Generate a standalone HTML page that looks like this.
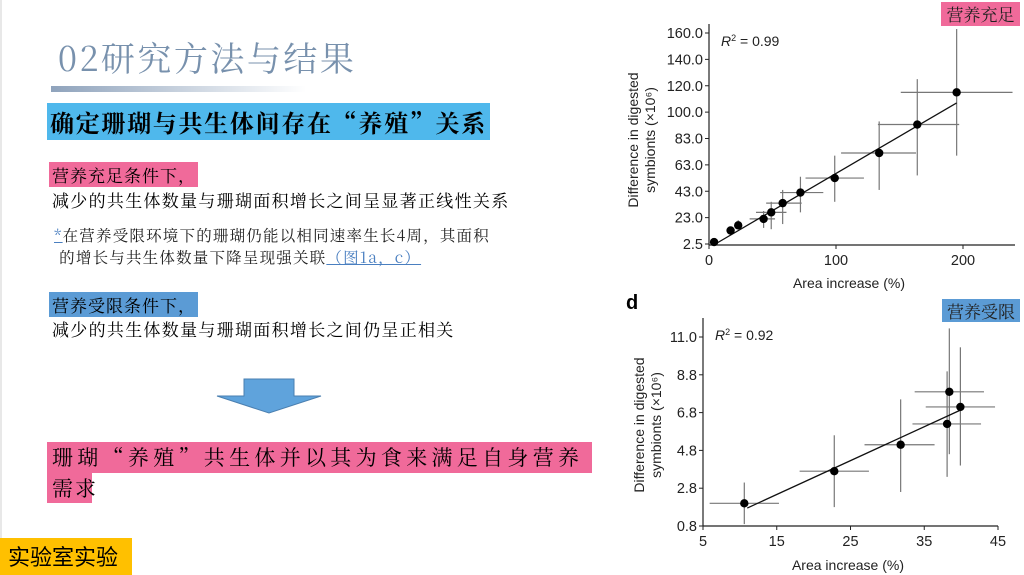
<!DOCTYPE html>
<html><head><meta charset="utf-8">
<style>
body{margin:0;width:1024px;height:575px;overflow:hidden;background:#fff;position:relative;font-family:"Noto Serif CJK SC","Liberation Serif",serif;}
.abs{position:absolute;white-space:nowrap;}
</style></head><body>
<div class="abs" style="left:0;top:0;width:2px;height:575px;background:#e8e8e8"></div>
<div class="abs" style="left:58px;top:35px;font-size:34px;color:#7891ad;letter-spacing:2.5px;line-height:44px">02研究方法与结果</div>
<div class="abs" style="left:51px;top:86px;width:255px;height:6px;background:linear-gradient(90deg,#8fa3bc,rgba(200,210,222,0))"></div>
<div class="abs" style="left:47px;top:103px;width:443px;height:37px;background:#4fb8ec;font-size:24px;font-weight:bold;letter-spacing:1.7px;line-height:37px;padding-left:3px;box-sizing:border-box;color:#000">确定珊瑚与共生体间存在“养殖”关系</div>
<div class="abs" style="left:49px;top:162px;width:149px;height:25px;background:#f06a9a;font-size:17px;letter-spacing:1px;line-height:25px;padding-left:3px;box-sizing:border-box">营养充足条件下，</div>
<div class="abs" style="left:52px;top:187px;font-size:17px;letter-spacing:1.3px;line-height:26px">减少的共生体数量与珊瑚面积增长之间呈显著正线性关系</div>
<div class="abs" style="left:54px;top:224px;font-size:15.5px;letter-spacing:1.2px;line-height:22px;color:#222"><span style="color:#4a7fc0;text-decoration:underline">*</span>在营养受限环境下的珊瑚仍能以相同速率生长4周，其面积<br>&nbsp;的增长与共生体数量下降呈现强关联<span style="color:#4a7fc0;text-decoration:underline">（图1a，c）</span></div>
<div class="abs" style="left:49px;top:292px;width:149px;height:25px;background:#5b9bd5;font-size:17px;letter-spacing:1px;line-height:25px;padding-left:3px;box-sizing:border-box">营养受限条件下，</div>
<div class="abs" style="left:52px;top:316px;font-size:17px;letter-spacing:1.3px;line-height:26px">减少的共生体数量与珊瑚面积增长之间仍呈正相关</div>
<svg class="abs" style="left:0;top:0" width="400" height="420"><polygon points="244,379 294,379 294,396 321,396 269,413 217,396 244,396" fill="#5fa3dc" stroke="#4a7fb0" stroke-width="1"/></svg>
<div class="abs" style="left:47px;top:442px;width:545px;height:31px;background:#f06a9a;font-size:21px;letter-spacing:4.3px;line-height:31px;padding-left:5px;box-sizing:border-box">珊瑚“养殖”共生体并以其为食来满足自身营养</div>
<div class="abs" style="left:47px;top:473px;width:45px;height:30px;background:#f06a9a;font-size:21px;letter-spacing:2px;line-height:30px;padding-left:5px;box-sizing:border-box">需求</div>
<div class="abs" style="left:0;top:538px;width:132px;height:37px;background:#ffc000;font-family:'Noto Sans CJK SC',sans-serif;font-size:22px;line-height:37px;padding-left:8px;box-sizing:border-box">实验室实验</div>
<div class="abs" style="left:941px;top:2px;width:79px;height:24px;background:#f06a9a;font-size:17px;line-height:24px;text-align:center;color:#222">营养充足</div>
<div class="abs" style="left:942px;top:299px;width:78px;height:23px;background:#5b9bd5;font-size:17px;line-height:23px;text-align:center;color:#222">营养受限</div>
<div class="abs" style="left:626px;top:292px;font-family:'Liberation Sans',sans-serif;font-weight:bold;font-size:20px">d</div>
<svg id="chart" class="abs" style="left:0;top:0" width="1024" height="575" font-family="Liberation Sans, sans-serif"></svg>
<script>
// Top chart data
const topYTicks=[2.5,23,43,63,83,100,120,140,160];
const topXTicks=[0,100,200];
const topX=[4,17,23,43,49,58,72,99,134,164,195];
const topY=[4,13,17,22,27,34,42,53,72,92,115];
const topXLo=[4,15,21,32,37,45,56,76,104,133,151];
const topXHi=[4,19,25,52,61,73,90,122,163,197,239];
const topYLo=[4,11,14,15,14,18,27,35,44,55,70];
const topYHi=[4,15,21,28,35,44,54,70,94,125,163];
const topLine=[[5,2.5],[195,107]];
// Bottom chart data
const botYTicks=[0.8,2.8,4.8,6.8,8.8,11.0];
const botXTicks=[5,15,25,35,45];
const botX=[10.6,22.8,31.8,38.1,38.4,39.9];
const botY=[2.0,3.7,5.1,6.2,7.9,7.1];
const botXLo=[5.9,18.1,26.9,33.4,33.7,35.2];
const botXHi=[15.3,27.5,36.4,42.7,43.1,44.6];
const botYLo=[0.9,1.8,2.6,3.4,4.6,4.0];
const botYHi=[3.1,5.6,7.5,9.0,11.5,10.4];
const botLine=[[11,1.75],[39.9,6.93]];

const svg=document.getElementById('chart');
const NS='http://www.w3.org/2000/svg';
function mk(t,a,name){const e=document.createElementNS(NS,t);for(const k in a)e.setAttribute(k,a[k]);


svg.appendChild(e);return e;}
function pw(ticks,p0,p1){const n=ticks.length-1;return v=>{let i=0;while(i<n-1&&v>ticks[i+1])i++;const f=(v-ticks[i])/(ticks[i+1]-ticks[i]);return p0+(i+f)*(p1-p0)/n;};}
function lin(d0,d1,p0,p1){return v=>p0+(v-d0)/(d1-d0)*(p1-p0);}
function draw(o){
 const {sx,sy,xt,yt,left,bottom,top,right,X,Y,XL,XH,YL,YH,line,r2,pre}=o;
 mk('line',{x1:left,y1:top,x2:left,y2:bottom,stroke:'#222','stroke-width':1.2},pre+'y-axis');
 mk('line',{x1:left,y1:bottom,x2:right,y2:bottom,stroke:'#222','stroke-width':1.2},pre+'x-axis');
 yt.forEach(v=>{const y=sy(v);mk('line',{x1:left-4,y1:y,x2:left,y2:y,stroke:'#222'},pre+'y-tick');
  const t=mk('text',{x:left-6,y:y+5,'text-anchor':'end','font-size':14.5,fill:'#222'},pre+'y-tick-label');t.textContent=v.toFixed(1);});
 xt.forEach(v=>{const x=sx(v);mk('line',{x1:x,y1:bottom,x2:x,y2:bottom+4,stroke:'#222'},pre+'x-tick');
  const t=mk('text',{x:x,y:bottom+20,'text-anchor':'middle','font-size':14.5,fill:'#222'},pre+'x-tick-label');t.textContent=v;});
 X.forEach((x,i)=>{
  mk('line',{x1:sx(XL[i]),y1:sy(Y[i]),x2:sx(XH[i]),y2:sy(Y[i]),stroke:'#777','stroke-width':1.2},pre+'x-error-bar');
  mk('line',{x1:sx(x),y1:sy(YL[i]),x2:sx(x),y2:sy(YH[i]),stroke:'#777','stroke-width':1.2},pre+'y-error-bar');
 });
 mk('line',{x1:sx(line[0][0]),y1:sy(line[0][1]),x2:sx(line[1][0]),y2:sy(line[1][1]),stroke:'#111','stroke-width':1.3},pre+'regression-line');
 X.forEach((x,i)=>mk('circle',{cx:sx(x),cy:sy(Y[i]),r:4.2,fill:'#000'},pre+'data-point'));
 const r=mk('text',{x:left+12,y:top+22,'font-size':14,fill:'#222'},pre+'r-squared');r.innerHTML='<tspan font-style="italic">R</tspan><tspan dy="-5" font-size="9">2</tspan><tspan dy="5"> = '+r2+'</tspan>';
}
draw({sx:lin(0,200,709,963),sy:pw(topYTicks,244,33),xt:topXTicks,yt:topYTicks,left:709,bottom:245,top:24,right:1015,
 X:topX,Y:topY,XL:topXLo,XH:topXHi,YL:topYLo,YH:topYHi,line:topLine,r2:'0.99',pre:'top-'});
draw({sx:lin(5,45,703,998),sy:pw(botYTicks,526,337),xt:botXTicks,yt:botYTicks,left:703,bottom:526,top:318,right:998,
 X:botX,Y:botY,XL:botXLo,XH:botXHi,YL:botYLo,YH:botYHi,line:botLine,r2:'0.92',pre:'bottom-'});
function txt(a,s,name){const t=mk('text',a,name);t.textContent=s;return t;}
txt({x:849,y:288,'text-anchor':'middle','font-size':14,fill:'#222'},'Area increase (%)','top-x-axis-title');
txt({x:848,y:570,'text-anchor':'middle','font-size':14,fill:'#222'},'Area increase (%)','bottom-x-axis-title');
txt({x:0,y:0,'text-anchor':'middle','font-size':14,fill:'#222',transform:'translate(638,140) rotate(-90)'},'Difference in digested','top-y-axis-title-1');
txt({x:0,y:0,'text-anchor':'middle','font-size':14,fill:'#222',transform:'translate(655,140) rotate(-90)'},'symbionts (×10⁶)','top-y-axis-title-2');
txt({x:0,y:0,'text-anchor':'middle','font-size':14,fill:'#222',transform:'translate(644,425) rotate(-90)'},'Difference in digested','bottom-y-axis-title-1');
txt({x:0,y:0,'text-anchor':'middle','font-size':14,fill:'#222',transform:'translate(661,425) rotate(-90)'},'symbionts (×10⁶)','bottom-y-axis-title-2');
</script>
</body></html>
